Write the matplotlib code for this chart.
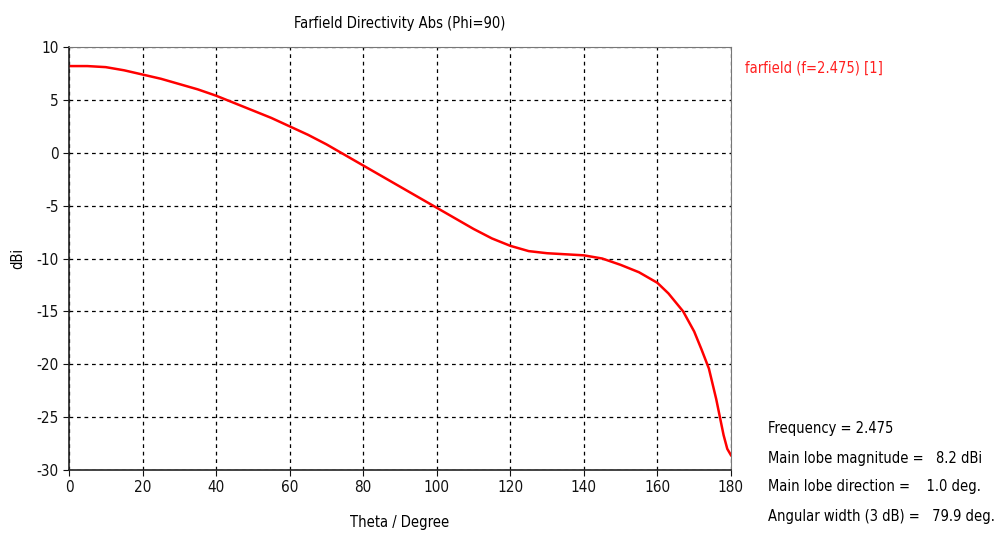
import numpy as np
import matplotlib.pyplot as plt

# directivity (Phi=90 cut)
theta = [0, 5, 10, 15, 20, 25, 30, 35, 40, 45, 50, 55, 60, 65, 70, 75, 80, 85, 90,
         95, 100, 105, 110, 115, 120, 125, 130, 135, 140, 145, 150, 155, 160, 163,
         167, 170, 172, 174, 176, 177, 178, 179, 180]
dbi = [8.2, 8.2, 8.1, 7.8, 7.4, 7.0, 6.5, 6.0, 5.4, 4.7, 4.0, 3.3, 2.5, 1.7, 0.8, -0.2,
       -1.2, -2.2, -3.2, -4.2, -5.2, -6.2, -7.2, -8.1, -8.8, -9.3, -9.5, -9.6, -9.7,
       -10.0, -10.6, -11.3, -12.3, -13.3, -15.0, -16.9, -18.6, -20.4, -23.3, -25.0,
       -26.7, -28.0, -28.6]

xticks = [0, 20, 40, 60, 80, 100, 120, 140, 160, 180]
yticks = [10, 5, 0, -5, -10, -15, -20, -25, -30]

info = ["Frequency = 2.475",
        "Main lobe magnitude =   8.2 dBi",
        "Main lobe direction =    1.0 deg.",
        "Angular width (3 dB) =   79.9 deg."]

plt.rcParams['font.family'] = ['DejaVu Sans']
plt.rcParams['font.stretch'] = 'condensed'
plt.rcParams['axes.unicode_minus'] = False
fig = plt.figure(figsize=(9.98, 5.34), dpi=100)
ax = fig.add_axes([0.0691, 0.1199, 0.6633, 0.792])
ax.set_axisbelow(True)

ax.plot(theta, dbi, color='#ff0000', lw=1.8)
ax.set_xlim(0, 180)
ax.set_ylim(-30, 10)
ax.set_xticks(xticks)
ax.set_yticks(yticks)
ax.tick_params(direction='out', length=4, labelsize=11, colors='#111111')
ax.grid(True, color='black', linestyle=(0, (3, 3)), lw=0.9)

for s in ['top', 'right']:
    ax.spines[s].set_color('#777777')
for s in ['left', 'bottom']:
    ax.spines[s].set_color('#222222')
    ax.spines[s].set_linewidth(1.2)

ax.set_title("Farfield Directivity Abs (Phi=90)", fontsize=10.5, pad=14)
ax.set_xlabel("Theta / Degree", fontsize=10.5, labelpad=14)
ax.set_ylabel("dBi", fontsize=10.5, labelpad=8)

fig.text(745 / 998, 1 - 68 / 534, "farfield (f=2.475) [1]", color='#ff2020',
         fontsize=10.5, va='center')
for i, line in enumerate(info):
    fig.text(768 / 998, 1 - (429 + 29 * i) / 534, line, fontsize=10.5, va='center')

fig.savefig("out.png", dpi=100)
